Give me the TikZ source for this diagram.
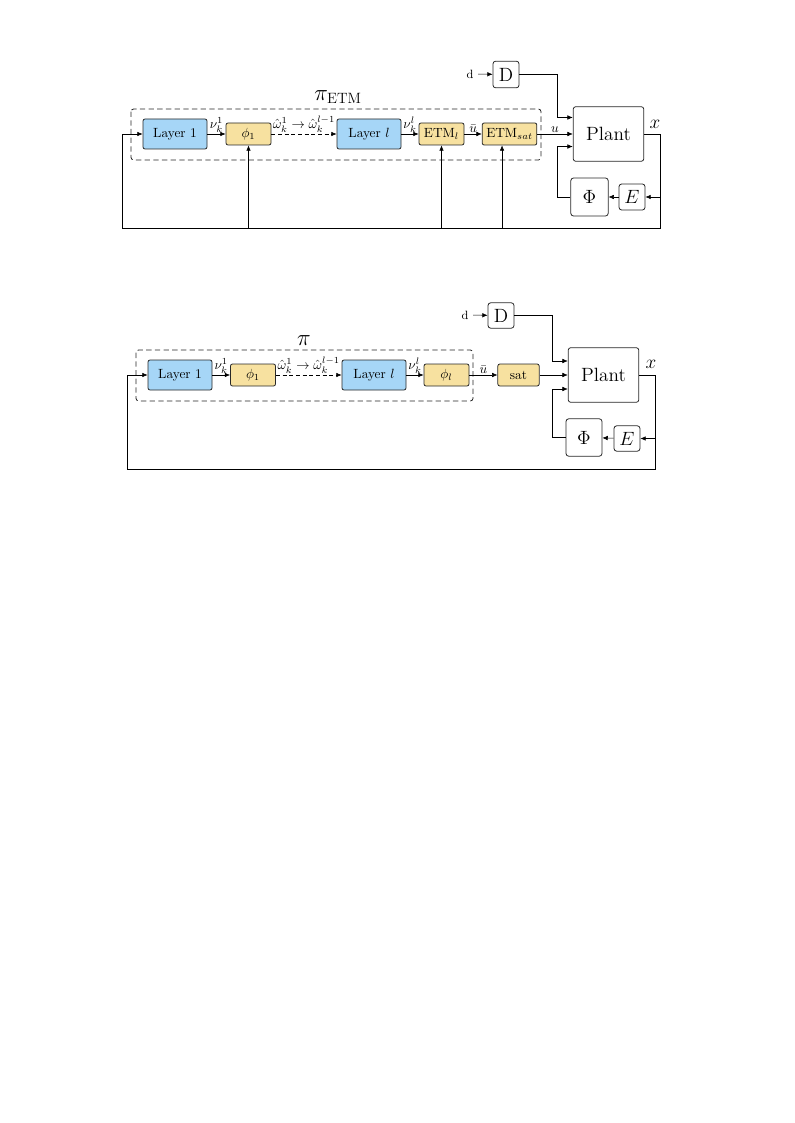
\documentclass[tikz,border=0pt]{standalone}
\usepackage{amsmath}
\usetikzlibrary{positioning,arrows.meta}
\definecolor{layerblue}{RGB}{166,214,247}
\definecolor{actyellow}{RGB}{247,225,160}
\definecolor{boxline}{RGB}{40,40,40}

\begin{document}
\begin{tikzpicture}[x=0.75pt,y=-0.75pt,
    layer/.style={draw=boxline,fill=layerblue,rounded corners=1.5pt,semithick,
      minimum width=48pt,minimum height=22.5pt,inner sep=0pt},
    act/.style={draw=boxline,fill=actyellow,rounded corners=1.5pt,semithick,
      minimum width=33.75pt,minimum height=16.5pt,inner sep=0pt},
    sys/.style={draw=boxline,fill=white,rounded corners=2pt,semithick,inner sep=0pt,font=\Large},
    group/.style={draw=black!85,semithick,rounded corners=2pt,dash pattern=on 4pt off 2.5pt},
    lbl/.style={inner sep=1pt},
    arrow/.style={-{Latex[length=4pt,width=3.4pt]},draw=black}
  ]
  \useasboundingbox (0,0) rectangle (794,1123);

  % upper loop, with event triggering
  \draw[group] (131,109) rectangle (541,160);
  \node[font=\fontsize{16}{19}\selectfont] (piA) at (338,97) {$\pi_{\text{ETM}}$};
  \node[layer] (layA) at (175,134) {Layer 1};
  \node[act] (phiA) at (248.5,134) {$\phi_1$};
  \node[layer] (laylA) at (369,134) {Layer $l$};
  \node[act] (etmlA) at (441.5,134) {$\text{ETM}_l$};
  \node[act,minimum width=41pt] (etmsA) at (509.5,134) {$\text{ETM}_{sat}$};
  \node[sys,minimum width=53pt,minimum height=41pt] (plantA) at (608.5,134) {Plant};
  \node[sys,minimum width=19.5pt,minimum height=20pt] (dA) at (506,74.5) {D};
  \node[font=\small] (dinA) at (470,74) {d};
  \node[sys,minimum width=28pt,minimum height=28.5pt] (PhiA) at (589.5,197) {$\Phi$};
  \node[sys,minimum width=19.5pt,minimum height=19.5pt] (eA) at (632,197) {$E$};
  \node[font=\Large] (xlA) at (655,124) {$x$};
  \coordinate (xA) at (660,134);
  \coordinate (brA) at (660,228);
  \coordinate (blA) at (122,228);
  \coordinate (inA) at (122,134);

  \draw[arrow] (layA) -- node[lbl,above] {$\nu_k^1$} (phiA);
  \draw[arrow,densely dashed] (phiA) -- node[lbl,above] {$\hat{\omega}_k^1 \rightarrow \hat{\omega}_k^{l-1}$} (laylA);
  \draw[arrow] (laylA) -- node[lbl,above] {$\nu_k^l$} (etmlA);
  \draw[arrow] (etmlA) -- node[lbl,above] {$\bar{u}$} (etmsA);
  \draw[arrow] (etmsA) -- node[lbl,above] {$u$} (plantA);
  \draw[arrow] (dinA) -- (dA);
  \draw[arrow] (dA.east) -| ([shift={(-12pt,12.4pt)}]plantA.west) -- ([yshift=12.4pt]plantA.west);
  \draw[arrow] (PhiA.west) -| ([shift={(-12pt,-9.4pt)}]plantA.west) -- ([yshift=-9.4pt]plantA.west);
  \draw[arrow] (eA) -- (PhiA);
  \draw (plantA.east) -- (xA) -- (brA) -- (blA) -- (inA);
  \draw[arrow] (inA) -- (layA);
  \draw[arrow] (xA |- eA) -- (eA);
  \draw[arrow] (phiA |- blA) -- (phiA);
  \draw[arrow] (etmlA |- blA) -- (etmlA);
  \draw[arrow] ([xshift=-5.6pt]etmsA.south |- blA) -- ([xshift=-5.6pt]etmsA.south);

  % lower loop, plain network
  \draw[group] (136,350) rectangle (473,401);
  \node[font=\fontsize{16}{19}\selectfont] (piB) at (304,341) {$\pi$};
  \node[layer] (layB) at (180,375) {Layer 1};
  \node[act] (phiB) at (253,375) {$\phi_1$};
  \node[layer] (laylB) at (374,375) {Layer $l$};
  \node[act] (philB) at (446.5,375) {$\phi_l$};
  \node[act,minimum width=31pt] (satB) at (518.5,375) {sat};
  \node[sys,minimum width=53pt,minimum height=41pt] (plantB) at (603.5,375) {Plant};
  \node[sys,minimum width=19.5pt,minimum height=19pt] (dB) at (501,315.5) {D};
  \node[font=\small] (dinB) at (465,315) {d};
  \node[sys,minimum width=27pt,minimum height=28pt] (PhiB) at (584,437.5) {$\Phi$};
  \node[sys,minimum width=19.5pt,minimum height=19pt] (eB) at (627,438.5) {$E$};
  \node[font=\Large] (xlB) at (651,364) {$x$};
  \coordinate (xB) at (655,375);
  \coordinate (brB) at (655,469);
  \coordinate (blB) at (127,469);
  \coordinate (inB) at (127,375);

  \draw[arrow] (layB) -- node[lbl,above] {$\nu_k^1$} (phiB);
  \draw[arrow,densely dashed] (phiB) -- node[lbl,above] {$\hat{\omega}_k^1 \rightarrow \hat{\omega}_k^{l-1}$} (laylB);
  \draw[arrow] (laylB) -- node[lbl,above] {$\nu_k^l$} (philB);
  \draw[arrow] (philB) -- node[lbl,above] {$\bar{u}$} (satB);
  \draw[arrow] (satB) -- (plantB);
  \draw[arrow] (dinB) -- (dB);
  \draw[arrow] (dB.east) -| ([shift={(-12pt,10.5pt)}]plantB.west) -- ([yshift=10.5pt]plantB.west);
  \draw[arrow] (PhiB.west) -| ([shift={(-12pt,-10.5pt)}]plantB.west) -- ([yshift=-10.5pt]plantB.west);
  \draw[arrow] (eB) -- (PhiB);
  \draw (plantB.east) -- (xB) -- (brB) -- (blB) -- (inB);
  \draw[arrow] (inB) -- (layB);
  \draw[arrow] (xB |- eB) -- (eB);
\end{tikzpicture}
\end{document}
